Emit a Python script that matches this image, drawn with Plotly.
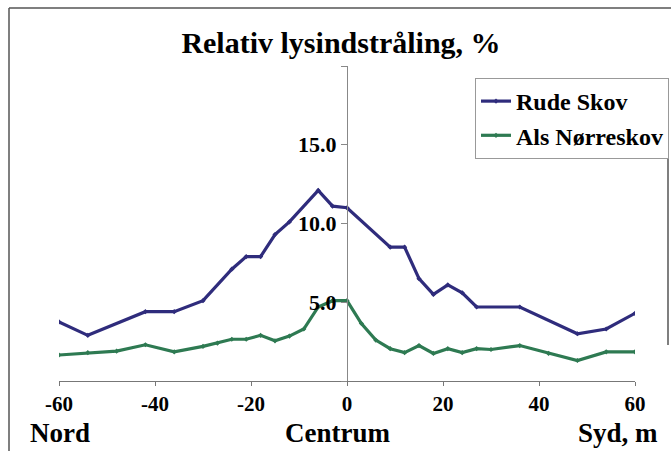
import plotly.graph_objects as go

# Data
rude_x = [-60, -54, -42, -36, -30, -24, -21, -18, -15, -12, -6, -3, 0, 9, 12, 15, 18, 21, 24, 27, 36, 48, 54, 60]
rude_y = [3.75, 2.9, 4.4, 4.4, 5.1, 7.1, 7.9, 7.9, 9.3, 10.1, 12.1, 11.1, 11.0, 8.5, 8.5, 6.5, 5.5, 6.1, 5.6, 4.7, 4.7, 3.0, 3.3, 4.3]

als_x = [-60, -54, -48, -42, -36, -30, -27, -24, -21, -18, -15, -12, -9, -6, -3, 0, 3, 6, 9, 12, 15, 18, 21, 24, 27, 30, 36, 42, 48, 54, 60]
als_y = [1.65, 1.8, 1.9, 2.3, 1.85, 2.2, 2.4, 2.65, 2.65, 2.9, 2.55, 2.85, 3.3, 4.7, 5.1, 5.1, 3.65, 2.6, 2.05, 1.8, 2.25, 1.75, 2.05, 1.8, 2.05, 2.0, 2.25, 1.75, 1.3, 1.85, 1.85]

x_ticks = [-60, -40, -20, 0, 20, 40, 60]
y_ticks = [0, 5, 10, 15, 20]
y_ticktext = ["", "5.0", "10.0", "15.0", ""]

title_text = "Relativ lysindstråling, %"
bottom_labels = ["Nord", "Centrum", "Syd, m"]

W, H = 671, 451
L, R, T, B = 59, 36, 66, 70
pw, ph = W - L - R, H - T - B

def px_x(px):
    return (px - L) / pw

def px_y(py):
    return (H - B - py) / ph

FONT = "Liberation Serif"
BLUE = "#2f2c7c"
GREEN = "#2e7a52"

fig = go.Figure()
fig.add_trace(go.Scatter(x=rude_x, y=rude_y, mode="lines+markers", name="<b>Rude Skov</b>",
                         line=dict(color=BLUE, width=3.2),
                         marker=dict(color=BLUE, size=4, symbol="diamond")))
fig.add_trace(go.Scatter(x=als_x, y=als_y, mode="lines+markers", name="<b>Als Nørreskov</b>",
                         line=dict(color=GREEN, width=3.2),
                         marker=dict(color=GREEN, size=4, symbol="diamond")))

fig.update_layout(
    width=W, height=H,
    margin=dict(l=L, r=R, t=T, b=B, pad=0, autoexpand=False),
    paper_bgcolor="white", plot_bgcolor="white",
    font=dict(family=FONT, color="black"),
    title=dict(text="<b>" + title_text + "</b>", x=341 / W, xanchor="center",
               y=1 - 42 / H, yanchor="middle", yref="container",
               font=dict(family=FONT, size=30, color="black")),
    xaxis=dict(range=[-60, 60], tickvals=x_ticks, ticktext=["<b>%d</b>" % v for v in x_ticks],
               showgrid=False, zeroline=False, showline=True, linecolor="#777", linewidth=1,
               ticks="outside", ticklen=4, tickcolor="#777",
               tickfont=dict(family=FONT, size=21, color="black")),
    yaxis=dict(range=[0, 20], tickvals=y_ticks, ticktext=["<b>%s</b>" % t if t else "" for t in y_ticktext],
               anchor="free", position=0.5,
               showgrid=False, zeroline=False, showline=True, linecolor="#888", linewidth=1,
               ticks="outside", ticklen=6, tickcolor="#888",
               tickfont=dict(family=FONT, size=22, color="black")),
    legend=dict(x=px_x(475), y=px_y(78), xanchor="left", yanchor="top",
                bgcolor="white", bordercolor="#999", borderwidth=1,
                font=dict(family=FONT, size=24, color="black"),
                itemwidth=30, tracegroupgap=0),
    showlegend=True,
)

# Bottom labels
fig.add_annotation(text="<b>" + bottom_labels[0] + "</b>", xref="paper", yref="paper",
                   x=px_x(28), y=px_y(433), xanchor="left", yanchor="middle",
                   showarrow=False, font=dict(family=FONT, size=27, color="black"))
fig.add_annotation(text="<b>" + bottom_labels[1] + "</b>", xref="paper", yref="paper",
                   x=px_x(337), y=px_y(433), xanchor="center", yanchor="middle",
                   showarrow=False, font=dict(family=FONT, size=27, color="black"))
fig.add_annotation(text="<b>" + bottom_labels[2] + "</b>", xref="paper", yref="paper",
                   x=px_x(660), y=px_y(433), xanchor="right", yanchor="middle",
                   showarrow=False, font=dict(family=FONT, size=27, color="black"))

# Outer frame (scanned chart border)
fig.add_shape(type="line", xref="paper", yref="paper", x0=px_x(9), x1=px_x(9), y0=px_y(8), y1=px_y(451),
              line=dict(color="#555", width=1.5))
fig.add_shape(type="line", xref="paper", yref="paper", x0=px_x(9), x1=px_x(671), y0=px_y(8), y1=px_y(8),
              line=dict(color="#555", width=1.5))
fig.add_shape(type="line", xref="paper", yref="paper", x0=px_x(668), x1=px_x(668), y0=px_y(130), y1=px_y(345),
              line=dict(color="#555", width=1.5))

fig.write_html("out.html")
